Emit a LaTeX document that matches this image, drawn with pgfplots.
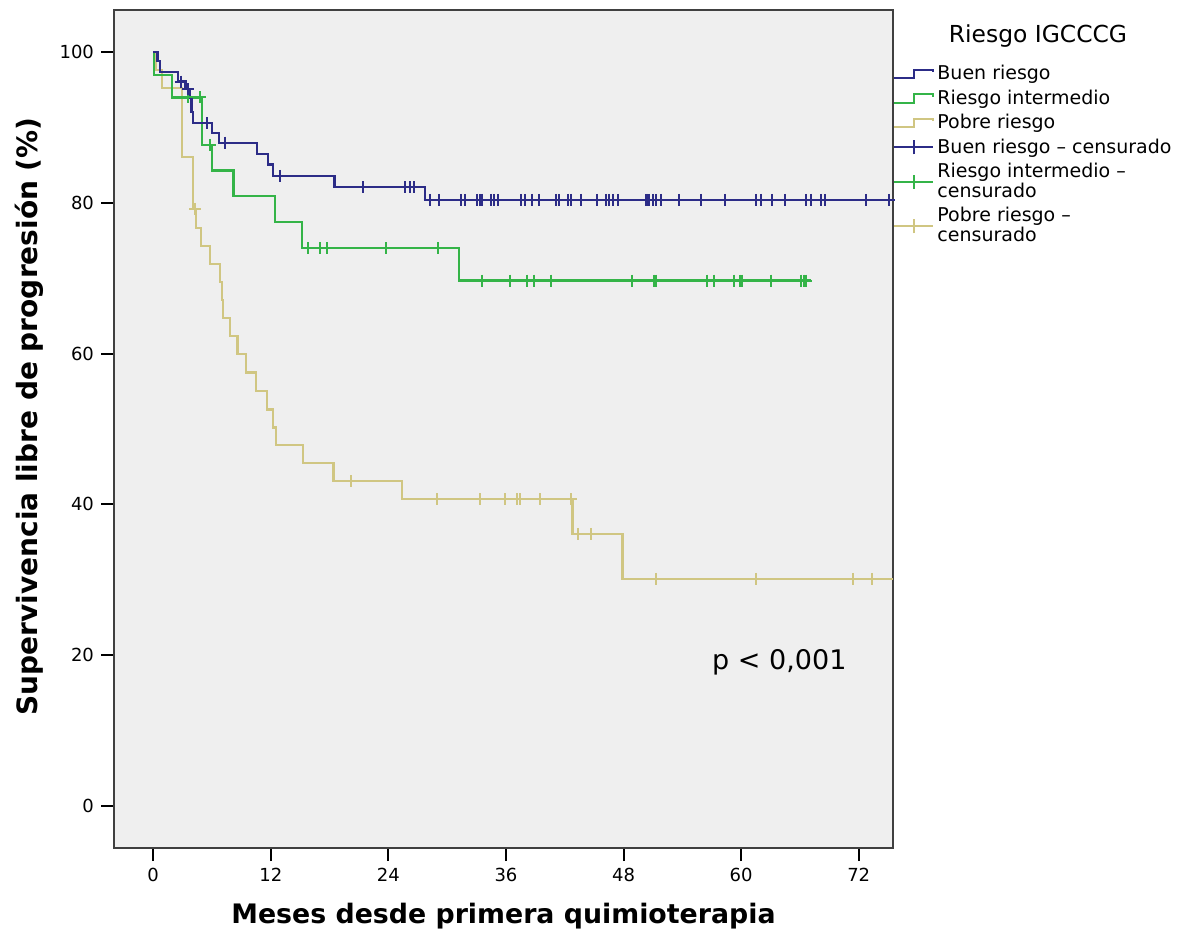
\documentclass[border=0pt]{standalone}
\usepackage{fontspec}
\setmainfont{DejaVu Sans}
\usepackage{pgfplots}
\pgfplotsset{compat=1.18}
\definecolor{kmblue}{RGB}{44,44,135}
\definecolor{kmgreen}{RGB}{52,180,72}
\definecolor{kmkhaki}{RGB}{208,198,130}
\definecolor{bgc}{RGB}{239,239,239}
\pgfplotsset{
  stepleg/.style={legend image code/.code={\draw[##1] (0pt,-2pt) -- (10pt,-2pt) -- (10pt,2.2pt) -- (19.5pt,2.2pt) -- (19.5pt,1pt);}},
  censleg/.style={legend image code/.code={\draw[##1] (0pt,0pt) -- (19.5pt,0pt); \draw[##1] (10pt,-3.5pt) -- (10pt,3.5pt);}},
}
\begin{document}
\begin{tikzpicture}
\useasboundingbox (-57pt,-43pt) rectangle (537pt,424pt);
\begin{axis}[
  scale only axis, width=389.5pt, height=419pt,
  xmin=-4, xmax=75.5, ymin=-5.6, ymax=105.6,
  xtick={0,12,...,72}, ytick={0,20,...,100},
  tick align=outside, xtick pos=bottom, ytick pos=left,
  major tick length=6.5pt,
  every tick/.style={black, line width=1pt},
  axis line style={draw=black!75, line width=1pt},
  axis background/.style={fill=bgc},
  tick label style={font=\fontsize{9}{10}\selectfont},
  /pgf/number format/assume math mode=true,
  xlabel={Meses desde primera quimioterapia},
  ylabel={Supervivencia libre de progresión (\%)},
  xlabel style={font=\bfseries\fontsize{13.4}{16}\selectfont, at={(axis description cs:0.5,-0.0895)}, anchor=base},
  ylabel style={font=\bfseries\fontsize{14}{16}\selectfont, at={(axis description cs:-0.0988,0.515)}, anchor=base},
  legend style={at={(axis description cs:1,0.9356)}, anchor=north west, draw=none, fill=none,
    font=\fontsize{9.5}{10}\selectfont, cells={anchor=west, align=left},
    row sep=2.5pt, inner xsep=0pt, inner ysep=0pt, nodes={inner xsep=1.5pt, inner ysep=0.5pt}},
  legend cell align=left,
]
% legend images
\addlegendimage{kmblue, line width=1pt, stepleg}
\addlegendentry{Buen riesgo}
\addlegendimage{kmgreen, line width=1pt, stepleg}
\addlegendentry{Riesgo intermedio}
\addlegendimage{kmkhaki, line width=1pt, stepleg}
\addlegendentry{Pobre riesgo}
\addlegendimage{kmblue, line width=1pt, censleg}
\addlegendentry{Buen riesgo – censurado}
\addlegendimage{kmgreen, line width=1pt, censleg}
\addlegendentry{Riesgo intermedio –\\censurado}
\addlegendimage{kmkhaki, line width=1pt, censleg}
\addlegendentry{Pobre riesgo –\\censurado}

% Pobre riesgo
\addplot[kmkhaki, line width=1.1pt, const plot, forget plot] coordinates {
(0,100) (0.3,97.6) (0.9,95.3) (2.9,86.1) (4.1,79.2) (4.4,76.7) (4.9,74.3) (5.8,71.9) (6.8,69.5) (7.0,67.1) (7.1,64.7) (7.8,62.3) (8.6,59.9) (9.5,57.5) (10.5,55.0) (11.6,52.6) (12.2,50.2) (12.5,47.9) (15.3,45.5) (18.4,43.1) (25.4,40.7) (42.8,36.1) (47.9,30.1) (75.5,30.1)};
\addplot[kmkhaki, only marks, mark=+, mark size=3pt, mark options={line width=1pt}, forget plot] coordinates {
(4.3,79.2) (20.2,43.1) (29.0,40.7) (33.4,40.7) (35.9,40.7) (37.1,40.7) (37.4,40.7) (39.5,40.7) (42.6,40.7) (43.4,36.1) (44.7,36.1) (51.3,30.1) (61.5,30.1) (71.4,30.1) (73.4,30.1)};

% Riesgo intermedio
\addplot[kmgreen, line width=1.1pt, const plot, forget plot] coordinates {
(0,100) (0.1,97.0) (1.9,94.0) (4.95,87.7) (6.0,84.3) (8.2,80.9) (12.4,77.5) (15.2,74.0) (31.2,69.7) (67.1,69.7)};
\addplot[kmgreen, only marks, mark=+, mark size=3pt, mark options={line width=1pt}, forget plot] coordinates {
(3.6,94.0) (4.8,94.0) (5.8,87.7) (15.8,74.0) (17.0,74.0) (17.7,74.0) (23.8,74.0) (29.1,74.0) (33.6,69.7) (36.4,69.7) (38.1,69.7) (38.9,69.7) (40.6,69.7) (48.9,69.7) (51.1,69.7) (51.3,69.7) (56.5,69.7) (57.2,69.7) (59.3,69.7) (59.9,69.7) (60.1,69.7) (63.0,69.7) (66.1,69.7) (66.4,69.7) (66.6,69.7)};

% Buen riesgo
\addplot[kmblue, line width=1.1pt, const plot, forget plot] coordinates {
(0,100) (0.44,98.8) (0.7,97.4) (2.5,96.1) (3.3,95.1) (3.7,93.9) (3.9,92.1) (4.1,90.6) (6.0,89.3) (6.7,88.0) (10.6,86.5) (11.7,85.1) (12.2,83.6) (18.5,82.1) (27.7,80.4) (75.5,80.4)};
\addplot[kmblue, only marks, mark=+, mark size=3pt, mark options={line width=1pt}, forget plot] coordinates {
(2.8,96.1) (3.6,95.1) (5.5,90.6) (7.3,88.0) (12.9,83.6) (21.4,82.1) (25.7,82.1) (26.2,82.1) (26.6,82.1) (28.2,80.4) (29.2,80.4) (31.4,80.4) (31.8,80.4) (33.0,80.4) (33.3,80.4) (33.6,80.4) (34.5,80.4) (34.8,80.4) (35.2,80.4) (37.5,80.4) (37.9,80.4) (38.7,80.4) (39.4,80.4) (41.1,80.4) (41.4,80.4) (42.3,80.4) (42.6,80.4) (43.7,80.4) (45.3,80.4) (46.2,80.4) (46.5,80.4) (46.9,80.4) (47.4,80.4) (50.3,80.4) (50.4,80.4) (50.6,80.4) (51.0,80.4) (51.3,80.4) (51.8,80.4) (53.7,80.4) (55.9,80.4) (58.4,80.4) (61.5,80.4) (62.0,80.4) (63.2,80.4) (64.5,80.4) (66.6,80.4) (67.1,80.4) (68.1,80.4) (68.6,80.4) (72.7,80.4) (75.1,80.4)};

\node[font=\fontsize{13.5}{15}\selectfont] at (axis cs:63.9,19.1) {p < 0,001};
\end{axis}
\node[font=\fontsize{11.7}{14}\selectfont] at (462pt,406pt) {Riesgo IGCCCG};
\end{tikzpicture}
\end{document}
